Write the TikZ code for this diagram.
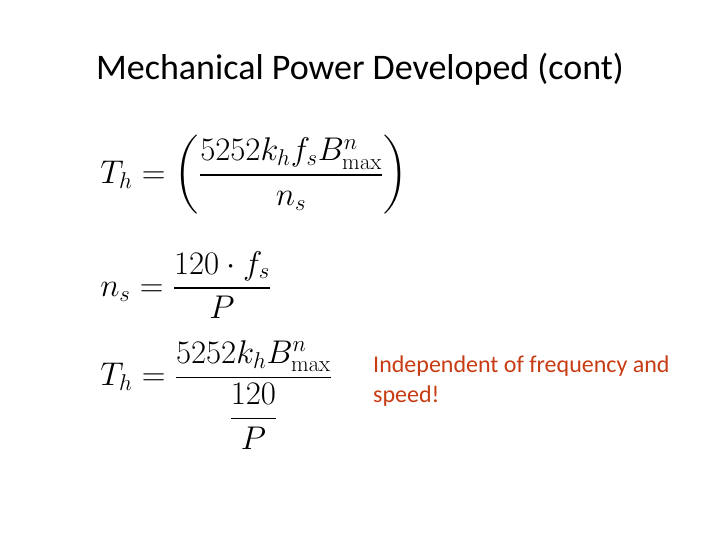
\documentclass[tikz,border=0pt]{standalone}
\usepackage{amsmath}
\usepackage[no-math]{fontspec}
\setmainfont{Carlito}
\definecolor{redtxt}{RGB}{200,60,20}
\begin{document}
\begin{tikzpicture}[x=1pt,y=-1pt,
  eq/.style={anchor=west,inner sep=0pt,scale=1.32,transform shape,font=\fontsize{27}{32}\selectfont},
  title/.style={font=\fontsize{36}{42}\selectfont}]
\useasboundingbox[fill=white] (0,0) rectangle (720,540);
\node[title] (t) at (360,69) {Mechanical Power Developed (cont)};
\node[eq] (e1) at (100,175) {$\displaystyle T_h=\left(\frac{5252k_hf_sB^n_{\mathrm{max}}}{n_s}\right)$};
\node[eq] (e2) at (100,285) {$\displaystyle n_s=\frac{120\cdot f_s}{P}$};
\node[eq] (e3) at (100,395) {$\displaystyle T_h=\frac{5252k_hB^n_{\mathrm{max}}}{\raisebox{-14pt}{$\displaystyle\frac{120}{P}$}}$};
\node[anchor=north west,align=left,text=redtxt,inner sep=0pt,font=\fontsize{24}{30}\selectfont] (r) at (373,356) {Independent of frequency and\\speed!};
\end{tikzpicture}
\end{document}
